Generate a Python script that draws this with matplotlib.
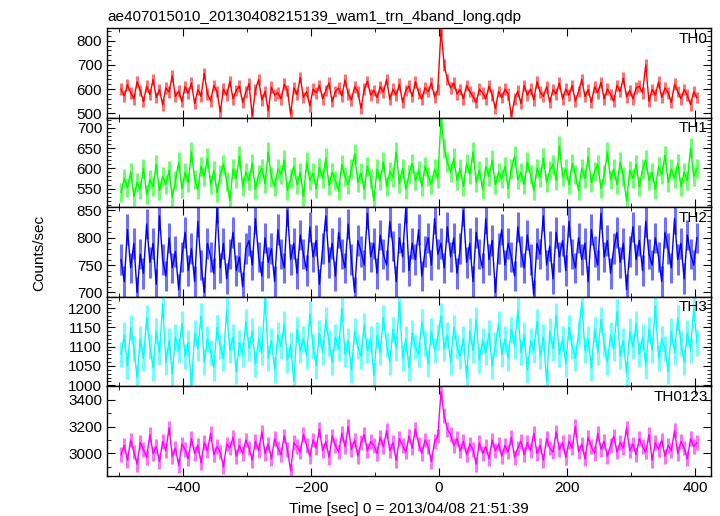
import matplotlib
matplotlib.use('Agg')
import matplotlib.pyplot as plt
from matplotlib.ticker import MultipleLocator
import numpy as np

plt.rcParams['font.family'] = ['Liberation Sans', 'DejaVu Sans']

# light curves, 5 s steps starting at t = -497 s
th0 = [600, 572, 618, 585, 560, 630, 595, 548, 612, 577, 640, 566, 598, 535, 605, 588, 655, 570, 592, 548,
       610, 583, 625, 540, 598, 570, 665, 580, 552, 615, 590, 505, 600, 575, 632, 560, 595, 612, 545, 588,
       622, 490, 598, 640, 555, 590, 510, 608, 575, 585, 560, 620, 595, 495, 605, 578, 648, 566, 590, 530,
       600, 585, 615, 560, 595, 625, 548, 590, 605, 572, 638, 580, 555, 610, 590, 520, 600, 632, 575, 595,
       565, 610, 588, 640, 558, 600, 575, 620, 545, 595, 612, 570, 630, 585, 560, 605, 590, 625, 568, 598,
       845, 700, 640,
       605, 625, 580, 598, 560, 615, 590, 570, 545, 600, 585, 560, 612, 575, 520, 590, 565,
       600, 580, 488, 560, 592, 540, 615, 575, 600, 555, 630, 588, 570, 610, 545, 598, 580, 625, 560, 600,
       575, 615, 550, 590, 640, 570, 598, 545, 610, 585, 628, 560, 600, 578, 550, 615, 590, 645, 568, 595,
       560, 605, 612, 585, 700, 550, 598, 575, 630, 565, 605, 585, 545, 620, 590, 560, 598, 575, 535, 590, 565]

th1 = [540, 575, 552, 590, 530, 565, 548, 600, 535, 572, 555, 610, 545, 580, 560, 595, 528, 570, 615, 550,
       590, 565, 640, 572, 548, 605, 580, 625, 560, 595, 540, 585, 610, 568, 520, 598, 575, 630, 555, 590,
       570, 612, 548, 585, 600, 562, 640, 578, 555, 598, 585, 620, 545, 575, 605, 560, 590, 530, 615, 570,
       588, 550, 602, 575, 625, 558, 590, 570, 545, 610, 580, 560, 598, 635, 565, 588, 548, 605, 575, 520,
       598, 570, 615, 555, 592, 578, 640, 562, 600, 548, 585, 612, 570, 595, 555, 605, 580, 560, 598, 575,
       720, 650, 615,
       590, 625, 570, 600, 555, 612, 585, 640, 565, 595, 548, 605, 580, 620, 560, 590, 575,
       605, 550, 598, 630, 572, 590, 560, 615, 585, 545, 600, 578, 625, 565, 595, 610, 570, 655, 580, 598,
       560, 612, 585, 545, 600, 575, 628, 565, 592, 610, 550, 585, 640, 572, 598, 560, 615, 580, 520, 595,
       575, 610, 555, 598, 620, 570, 590, 548, 605, 585, 632, 565, 598, 575, 612, 555, 590, 570, 650, 580, 600]

th2 = [760, 720, 815, 745, 790, 700, 770, 735, 825, 755, 790, 715, 840, 760, 730, 800, 745, 775, 705, 765,
       810, 740, 780, 720, 830, 750, 700, 790, 765, 735, 855, 745, 790, 725, 770, 810, 740, 765, 710, 780,
       795, 750, 835, 765, 730, 800, 755, 780, 720, 815, 770, 745, 850, 760, 790, 735, 805, 770, 740, 820,
       765, 795, 715, 780, 840, 755, 790, 730, 810, 770, 745, 825, 760, 700, 795, 775, 750, 845, 765, 790,
       735, 805, 770, 750, 830, 785, 720, 800, 765, 855, 740, 790, 760, 815, 730, 775, 800, 750, 835, 770,
       790, 745, 820, 765, 800, 735, 780, 850, 755, 790, 720, 810, 770, 745, 835, 760, 795, 700, 780, 815,
       750, 790, 765, 730, 820, 775, 745, 805, 760, 695, 790, 770, 840, 750, 785, 725, 810, 765, 795, 740,
       830, 770, 745, 800, 760, 790, 720, 815, 775, 750, 845, 765, 795, 735, 780, 810, 755, 790, 705, 775,
       820, 760, 795, 740, 830, 770, 750, 800, 765, 720, 810, 780, 745, 835, 760, 790, 725, 805, 770, 750, 800]

th3 = [1080, 1130, 1050, 1150, 1095, 1020, 1120, 1070, 1175, 1100, 1045, 1140, 1085, 1210, 1060, 1115, 1030, 1125, 1090, 1160,
       1075, 1110, 1000, 1135, 1095, 1180, 1060, 1120, 1085, 1045, 1150, 1100, 1070, 1195, 1090, 1125, 1035, 1110, 1080, 1165,
       1095, 1140, 1055, 1120, 1085, 1225, 1070, 1115, 1040, 1130, 1100, 1160, 1065, 1105, 1010, 1145, 1090, 1120, 1075, 1185,
       1100, 1050, 1135, 1085, 1170, 1110, 1060, 1125, 1095, 1200, 1080, 1115, 1040, 1140, 1100, 1075, 1155, 1090, 1120, 1025,
       1130, 1085, 1175, 1105, 1060, 1145, 1095, 1215, 1070, 1120, 1045, 1135, 1100, 1080, 1165, 1110, 1055, 1140, 1090, 1125,
       1180, 1095, 1130, 1060, 1150, 1100, 1075, 1120, 1020, 1140, 1090, 1170, 1065, 1115, 1085, 1135, 1050, 1105, 1160, 1080,
       1120, 1070, 1145, 1100, 1195, 1085, 1130, 1040, 1115, 1090, 1165, 1075, 1125, 1010, 1140, 1095, 1180, 1080, 1120, 1055,
       1150, 1100, 1070, 1135, 1215, 1090, 1120, 1045, 1145, 1085, 1170, 1105, 1060, 1130, 1095, 1190, 1075, 1115, 1030, 1140,
       1100, 1160, 1080, 1125, 1050, 1145, 1090, 1205, 1070, 1120, 1095, 1035, 1140, 1085, 1175, 1110, 1060, 1135, 1090, 1200, 1110]

th0123 = [2990, 3060, 2950, 3100, 3010, 2920, 3080, 3030, 2970, 3140, 3000, 3050, 2940, 3090, 3020, 3190, 2980, 3040, 2910, 3070,
          3030, 2960, 3110, 3000, 3060, 2930, 3080, 3020, 3150, 2990, 3050, 3010, 2900, 3070, 3040, 3120, 2980, 3060, 3000, 3100,
          3040, 2950, 3090, 3020, 3160, 3000, 3070, 2960, 3110, 3040, 2990, 3130, 3030, 2870, 3080, 3050, 3010, 3140, 3060, 2980,
          3100, 3040, 3180, 3020, 3090, 2970, 3130, 3060, 3010, 3150, 3050, 3200, 3030, 3100, 2980, 3080, 3140, 3020, 3090, 3060,
          3000, 3120, 3050, 3170, 3020, 3080, 2950, 3110, 3060, 3010, 3130, 3040, 3180, 3070, 3000, 3100, 3050, 2940, 3090, 3130,
          3460, 3280, 3180, 3140,
          3060, 3110, 3020, 3090, 2990, 3070, 3030, 2920, 3080, 3000, 3050, 2960, 3100, 3020, 3070, 2980,
          3060, 3010, 3120, 2970, 3040, 3090, 2990, 3080, 3020, 3150, 3000, 3060, 2950, 3110, 3040, 3010, 3160, 3030, 3080, 2970,
          3090, 3040, 3200, 3010, 3070, 2960, 3120, 3050, 3000, 3150, 3030, 3090, 2980, 3060, 3130, 3010, 3080, 3040, 3190, 3020,
          3070, 2990, 3110, 3050, 3010, 3140, 2950, 3080, 3030, 3100, 2980, 3060, 3020, 3170, 3000, 3090, 3040, 2960, 3110, 3050, 3080]

series = [th0, th1, th2, th3, th0123]
names = ['TH0', 'TH1', 'TH2', 'TH3', 'TH0123']
errs = [24, 24, 28, 33, 55]
colors = ['#ff0000', '#00ff00', '#0000ff', '#00ffff', '#ff00ff']
light = ['#ff7070', '#70ff70', '#7070ff', '#70ffff', '#ff70ff']
ylims = [(482, 853), (504, 725), (692, 856), (997, 1229), (2832, 3499)]
major = [100, 50, 50, 50, 200]
minor = [20, 10, 10, 10, 100]

fig, axes = plt.subplots(5, 1, sharex=True, figsize=(7.2, 5.16), dpi=100)
fig.subplots_adjust(left=0.1486, right=0.9875, bottom=0.0775, top=0.9457, hspace=0)

for i, ax in enumerate(axes):
    y = np.array(series[i])
    t = -497 + 5 * np.arange(len(y))
    ax.vlines(t, y - errs[i], y + errs[i], color=light[i], lw=2.2)
    ax.plot(t, y, color=colors[i], lw=1.0)
    ax.set_xlim(-519, 425)
    ax.set_ylim(*ylims[i])
    ax.yaxis.set_major_locator(MultipleLocator(major[i]))
    ax.yaxis.set_minor_locator(MultipleLocator(minor[i]))
    ax.xaxis.set_major_locator(MultipleLocator(200))
    ax.xaxis.set_minor_locator(MultipleLocator(100))
    ax.tick_params(which='both', direction='in', top=True, right=True, labelsize=11)
    ax.tick_params(which='major', length=6)
    ax.tick_params(which='minor', length=3)
    ax.text(0.995, 0.96, names[i], transform=ax.transAxes, ha='right', va='top', fontsize=11)
    for s in ax.spines.values():
        s.set_linewidth(1.0)

axes[0].set_title('ae407015010_20130408215139_wam1_trn_4band_long.qdp', loc='left', fontsize=11, pad=5)
axes[-1].set_xlabel('Time [sec] 0 = 2013/04/08 21:51:39', fontsize=11, labelpad=5)
fig.text(0.055, 0.51, 'Counts/sec', rotation=90, ha='center', va='center', fontsize=11)

plt.savefig('out.png')
plt.close()
